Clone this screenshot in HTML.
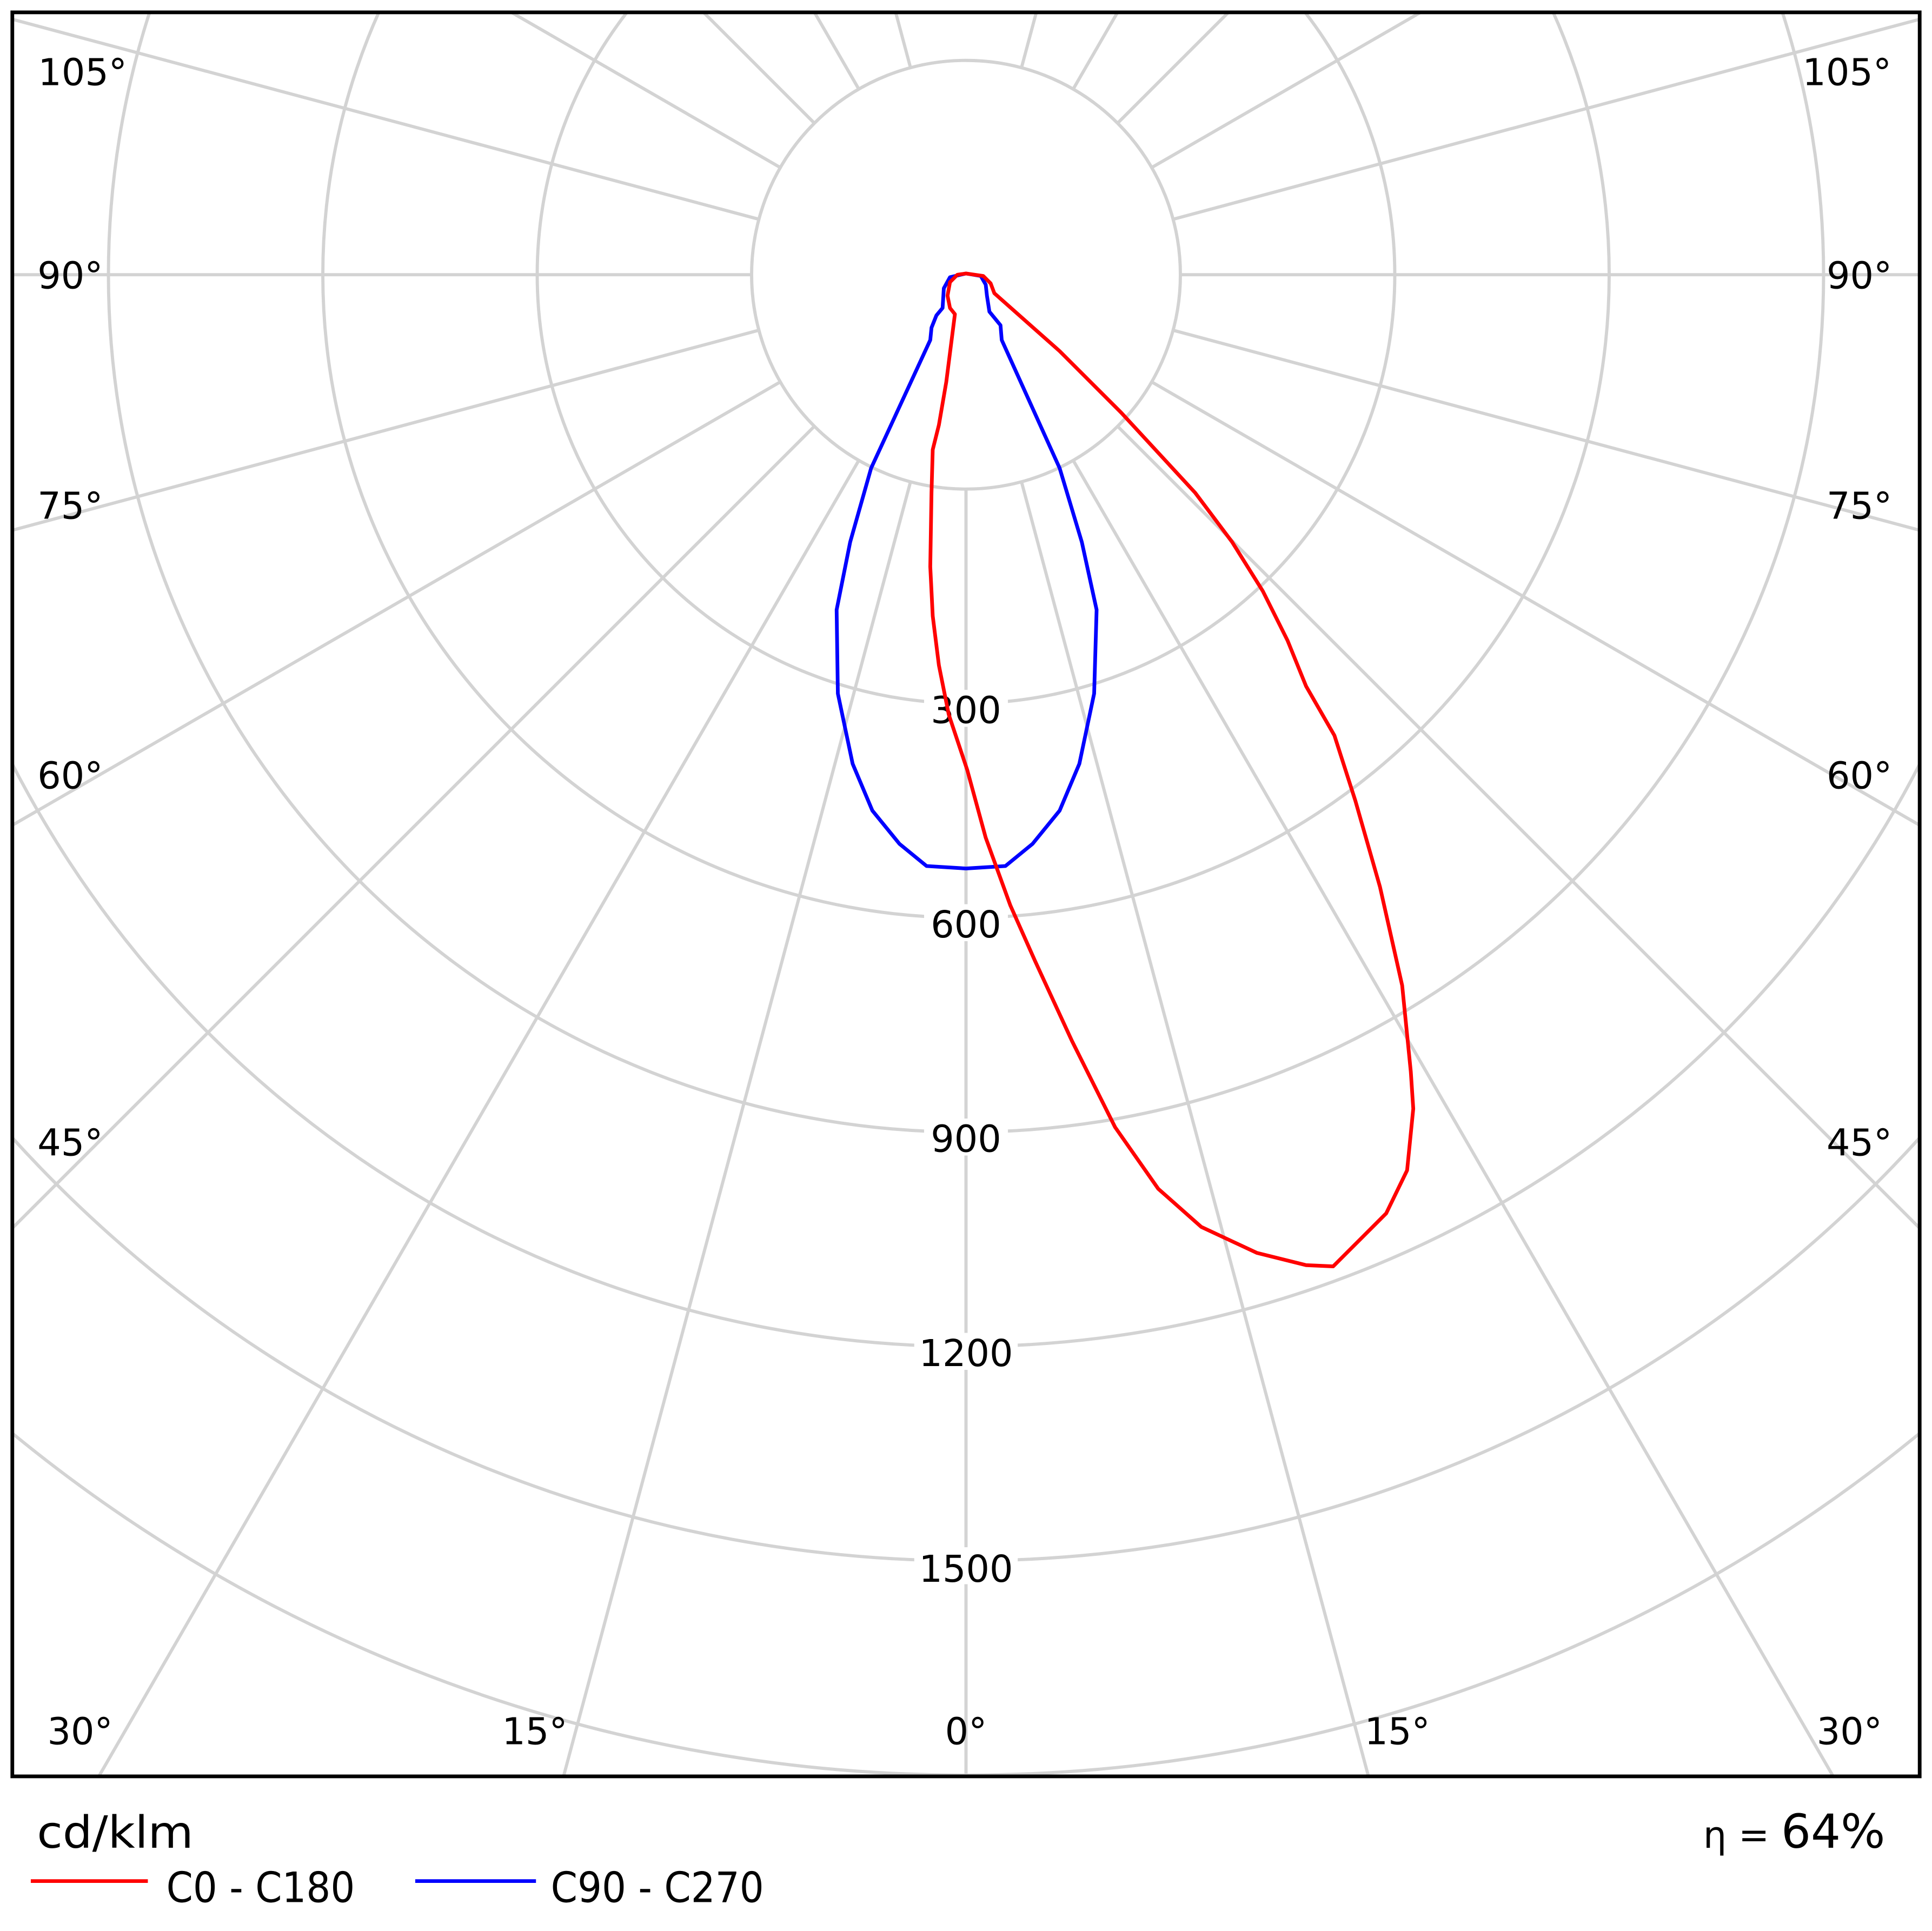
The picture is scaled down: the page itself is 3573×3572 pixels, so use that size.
<!DOCTYPE html>
<html><head><meta charset="utf-8"><style>
html,body{margin:0;padding:0;background:#fff;overflow:hidden;width:3573px;height:3572px}
svg{display:block;overflow:hidden;position:absolute;left:0;top:0}
text{font-family:"DejaVu Sans","Liberation Sans",sans-serif;fill:#000}
</style></head><body>
<svg width="3573" height="3572" viewBox="0 0 1568 1567.5" xmlns="http://www.w3.org/2000/svg">
<defs><clipPath id="c"><rect x="10" y="10" width="1548" height="1432"/></clipPath></defs>
<rect width="1568" height="1567" fill="#fff"/>
<g clip-path="url(#c)" stroke="#d3d3d3" stroke-width="2.6" fill="none">
<circle cx="784" cy="223" r="174"/>
<circle cx="784" cy="223" r="348"/>
<circle cx="784" cy="223" r="522"/>
<circle cx="784" cy="223" r="696"/>
<circle cx="784" cy="223" r="870"/>
<circle cx="784" cy="223" r="1044"/>
<circle cx="784" cy="223" r="1218"/>
<line x1="784" y1="397" x2="784" y2="2223"/>
<line x1="784" y1="397" x2="784" y2="2223" transform="rotate(15 784 223)"/>
<line x1="784" y1="397" x2="784" y2="2223" transform="rotate(30 784 223)"/>
<line x1="784" y1="397" x2="784" y2="2223" transform="rotate(45 784 223)"/>
<line x1="784" y1="397" x2="784" y2="2223" transform="rotate(60 784 223)"/>
<line x1="784" y1="397" x2="784" y2="2223" transform="rotate(75 784 223)"/>
<line x1="784" y1="397" x2="784" y2="2223" transform="rotate(90 784 223)"/>
<line x1="784" y1="397" x2="784" y2="2223" transform="rotate(105 784 223)"/>
<line x1="784" y1="397" x2="784" y2="2223" transform="rotate(120 784 223)"/>
<line x1="784" y1="397" x2="784" y2="2223" transform="rotate(135 784 223)"/>
<line x1="784" y1="397" x2="784" y2="2223" transform="rotate(150 784 223)"/>
<line x1="784" y1="397" x2="784" y2="2223" transform="rotate(165 784 223)"/>
<line x1="784" y1="397" x2="784" y2="2223" transform="rotate(-15 784 223)"/>
<line x1="784" y1="397" x2="784" y2="2223" transform="rotate(-30 784 223)"/>
<line x1="784" y1="397" x2="784" y2="2223" transform="rotate(-45 784 223)"/>
<line x1="784" y1="397" x2="784" y2="2223" transform="rotate(-60 784 223)"/>
<line x1="784" y1="397" x2="784" y2="2223" transform="rotate(-75 784 223)"/>
<line x1="784" y1="397" x2="784" y2="2223" transform="rotate(-90 784 223)"/>
<line x1="784" y1="397" x2="784" y2="2223" transform="rotate(-105 784 223)"/>
<line x1="784" y1="397" x2="784" y2="2223" transform="rotate(-120 784 223)"/>
<line x1="784" y1="397" x2="784" y2="2223" transform="rotate(-135 784 223)"/>
<line x1="784" y1="397" x2="784" y2="2223" transform="rotate(-150 784 223)"/>
<line x1="784" y1="397" x2="784" y2="2223" transform="rotate(-165 784 223)"/>
</g>
<g font-size="30" text-anchor="middle">
<g fill="#fff" stroke="none">
<rect x="750" y="560" width="68" height="30"/><rect x="750" y="734" width="68" height="30"/>
<rect x="750" y="908" width="68" height="30"/><rect x="742" y="1082" width="84" height="30"/>
<rect x="742" y="1256" width="84" height="30"/>
</g>
<text x="784" y="587">300</text><text x="784" y="761">600</text>
<text x="784" y="935">900</text><text x="784" y="1109">1200</text><text x="784" y="1284">1500</text>
<text x="784" y="1416">0°</text>
<text x="434" y="1416">15°</text><text x="1134" y="1416">15°</text>
<text x="65" y="1416">30°</text><text x="1501" y="1416">30°</text>
<text x="57" y="938">45°</text><text x="1509" y="938">45°</text>
<text x="57" y="640">60°</text><text x="1509" y="640">60°</text>
<text x="57" y="421">75°</text><text x="1509" y="421">75°</text>
<text x="57" y="234">90°</text><text x="1509" y="234">90°</text>
<text x="67" y="69">105°</text><text x="1499" y="69">105°</text>
</g>
<g fill="none" stroke-width="3" stroke-linejoin="round">
<path stroke="#0000ff" d="M784,222 L771,225 L766,234 L765,250 L760,256 L756,266 L755,276 L707,380 L690,440 L679,495 L680,563 L692,620 L708,658 L730,685 L752,703 L784,705 L816,703 L838,685 L860,658 L876,620 L888,563 L890,495 L878,440 L860,380 L813,276 L812,264 L803,253 L801,240 L800,231 L796,224 Z"/>
<path stroke="#ff0000" d="M784,222 L798,224 L804,230 L807,238 L860,285 L910,335 L970,400 L1000,440 L1025,480 L1045,520 L1060,557 L1083,597 L1100,650 L1120,720 L1138,800 L1145,870 L1147,900 L1142,950 L1125,985 L1082,1028 L1060,1027 L1020,1017 L975,996 L940,965 L905,915 L870,845 L840,780 L820,735 L800,680 L785,625 L770,580 L762,540 L757,500 L755,460 L756,400 L757,365 L762,345 L768,310 L775,255 L771,250 L769,240 L771,229 L777,223 Z"/>
</g>
<rect x="10" y="10" width="1548" height="1432" fill="none" stroke="#000" stroke-width="3"/>
<text x="30" y="1500" font-size="36" textLength="127" lengthAdjust="spacingAndGlyphs">cd/klm</text>
<line x1="25" y1="1527" x2="120" y2="1527" stroke="#ff0000" stroke-width="3"/>
<text x="135" y="1544" font-size="34" textLength="153" lengthAdjust="spacingAndGlyphs">C0 - C180</text>
<line x1="337" y1="1527" x2="435" y2="1527" stroke="#0000ff" stroke-width="3"/>
<text x="447" y="1544" font-size="34" textLength="173" lengthAdjust="spacingAndGlyphs">C90 - C270</text>
<text x="1530" y="1500" font-size="38" text-anchor="end"><tspan font-size="30">η = </tspan>64%</text>
</svg>
</body></html>
